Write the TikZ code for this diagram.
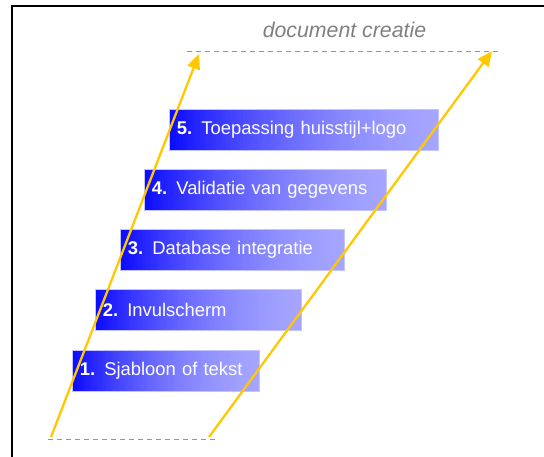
\documentclass[tikz,border=0pt]{standalone}
\usepackage{fontspec}
\setmainfont{Liberation Sans}
\usetikzlibrary{arrows.meta,calc}
\definecolor{gA}{RGB}{10,10,255}
\definecolor{gE}{RGB}{166,166,255}
\definecolor{boxedge}{RGB}{195,195,255}
\definecolor{gold}{RGB}{255,200,0}
\definecolor{dashgray}{RGB}{150,150,150}
\definecolor{titlegray}{RGB}{128,128,128}
\begin{document}
\begin{tikzpicture}[x=1pt,y=-1pt,
  stepbox/.style={draw=boxedge, line width=0.6pt,
    path picture={
      \foreach \i in {0,...,79}{
        \pgfmathsetmacro\xa{\i/80}
        \pgfmathsetmacro\xb{(\i+1.1)/80}
        \pgfmathsetmacro\xm{(\i+0.5)/80}
        \pgfmathsetmacro\f{100*\xm*(1.7-0.7*\xm)}
        \fill[gE!\f!gA] ($(path picture bounding box.south west)!\xa!(path picture bounding box.south east)$)
          rectangle ($(path picture bounding box.north west)!\xb!(path picture bounding box.north east)$);
      }
    },
    anchor=north west, minimum height=41pt, inner xsep=7.5pt, inner ysep=0pt,
    align=left, text=white, font=\fontsize{18.4}{22}\selectfont},
  goldarrow/.style={draw=gold, line width=2.3pt, -{Triangle[length=15pt,width=13pt]}},
  guide/.style={draw=dashgray, line width=0.8pt, dash pattern=on 5pt off 4pt}]
\useasboundingbox (0,0) rectangle (544,457);
\fill[white] (0,0) rectangle (544,457);
\draw[line width=2pt] (12,470) -- (12,6) -- (560,6);
% guides
\coordinate (tl) at (187,51);
\coordinate (tr) at (500,51);
\coordinate (bl) at (48,439);
\coordinate (br) at (218,439);
\draw[guide] (tl) -- (tr);
\draw[guide] (bl) -- (br);
\node[text=titlegray, font=\fontsize{21.3}{25}\selectfont\itshape] (title) at (344.5,30) {document creatie};
% boxes
\node[stepbox, text width=172pt] (b1) at (72,350) {\textbf{1.} Sjabloon of tekst};
\node[stepbox, text width=191pt] (b2) at (95,289) {\textbf{2.} Invulscherm};
\node[stepbox, text width=209pt] (b3) at (120,229) {\textbf{3.} Database integratie};
\node[stepbox, text width=227pt] (b4) at (144,169) {\textbf{4.} Validatie van gegevens};
\node[stepbox, text width=254pt] (b5) at (169,109) {\textbf{5.} Toepassing huisstijl+logo};
% arrows
\coordinate (la0) at (51,437);
\coordinate (la1) at (199,54);
\coordinate (ra0) at (209,437);
\coordinate (ra1) at (492,51);
\draw[goldarrow] (la0) -- (la1);
\draw[goldarrow] (ra0) -- (ra1);
\end{tikzpicture}
\end{document}
